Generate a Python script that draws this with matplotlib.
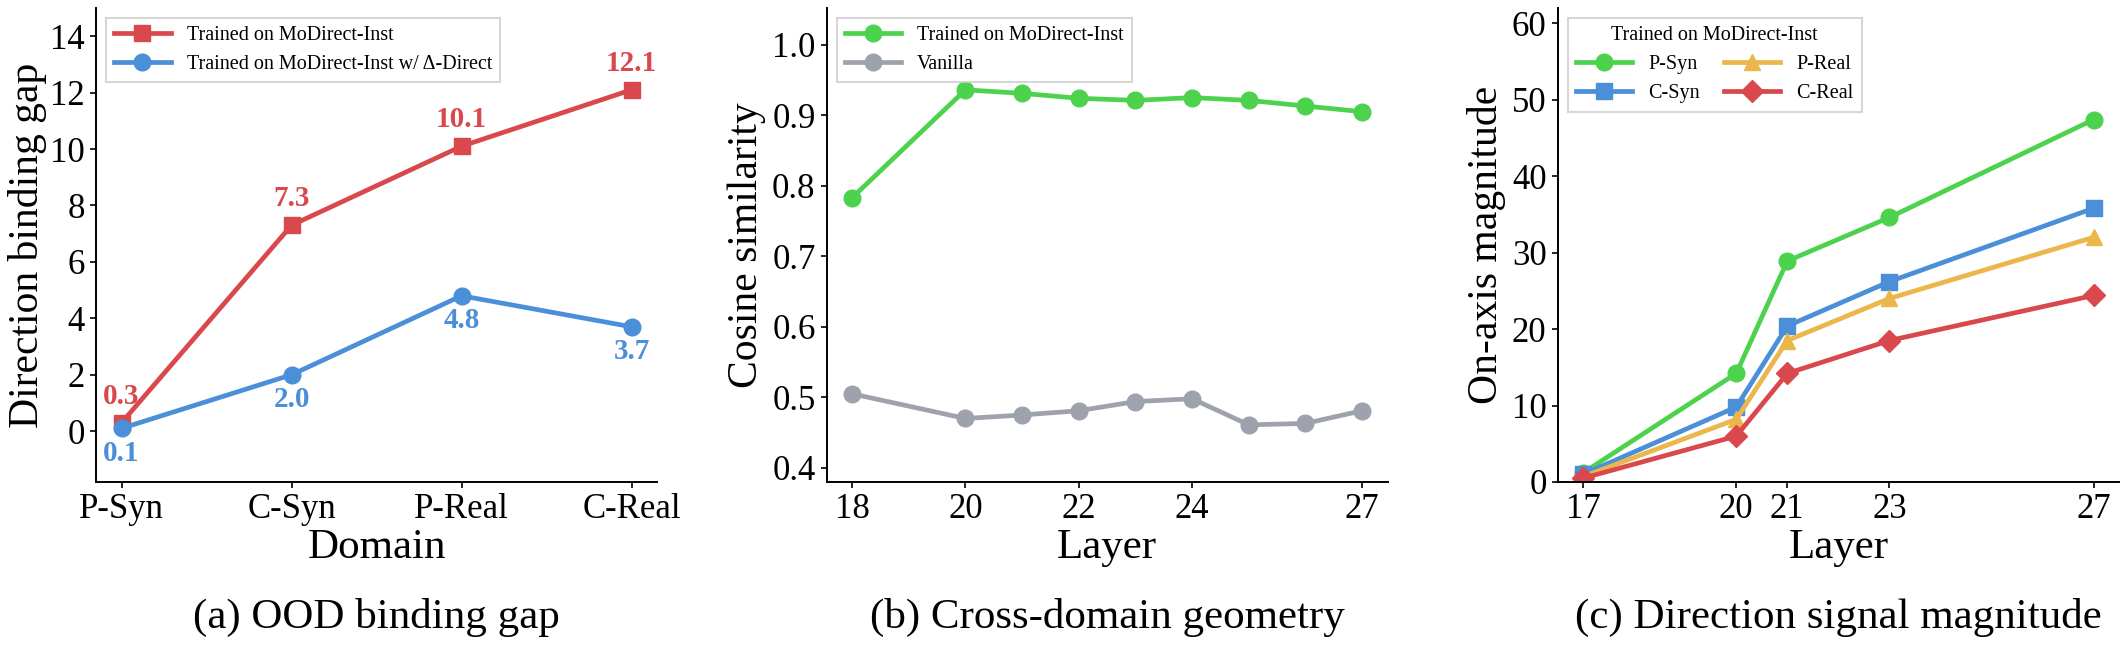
import matplotlib.pyplot as plt

plt.rcParams["font.family"] = ["Liberation Serif", "DejaVu Serif"]

C_RED = "#D9484C"
C_BLUE = "#4A8FD8"
C_GREEN = "#4DD24D"
C_GRAY = "#9EA2AD"
C_GOLD = "#EBB64A"

# (a) OOD binding gap
domains = ["P-Syn", "C-Syn", "P-Real", "C-Real"]
gap_inst = [0.3, 7.3, 10.1, 12.1]
gap_delta = [0.1, 2.0, 4.8, 3.7]

# (b) cross-domain geometry
layers_b = [18, 20, 21, 22, 23, 24, 25, 26, 27]
cos_trained = [0.783, 0.936, 0.931, 0.924, 0.921, 0.925, 0.921, 0.913, 0.905]
cos_vanilla = [0.505, 0.470, 0.475, 0.481, 0.494, 0.498, 0.461, 0.463, 0.481]
ticks_b = [18, 20, 22, 24, 27]

# (c) direction signal magnitude
layers_c = [17, 20, 21, 23, 27]
mag_psyn = [1.2, 14.2, 28.9, 34.6, 47.4]
mag_csyn = [1.0, 9.8, 20.4, 26.2, 35.8]
mag_preal = [0.7, 8.2, 18.5, 24.0, 32.0]
mag_creal = [0.5, 6.0, 14.2, 18.5, 24.4]

TICK_FS = 25
XLABEL_FS = 31
YLABEL_FS = 30
CAP_FS = 31
LEG_FS = 14.5
LW = 3.4
MS = 12


def style_axes(ax):
    ax.spines["top"].set_visible(False)
    ax.spines["right"].set_visible(False)
    for s in ("left", "bottom"):
        ax.spines[s].set_linewidth(1.4)
    ax.tick_params(labelsize=TICK_FS, width=1.2, length=4.5)


def legend(ax, **kw):
    leg = ax.legend(loc="upper left", fontsize=LEG_FS, frameon=True,
                    fancybox=False, edgecolor="#cccccc", handlelength=2.8,
                    borderaxespad=0.5, **kw)
    leg.get_frame().set_linewidth(1.5)
    return leg


fig = plt.figure(figsize=(21.25, 6.5), dpi=100)
bottom, top = 0.2585, 0.9877
ax_a = fig.add_axes([0.0452, bottom, 0.3092 - 0.0452, top - bottom])
ax_b = fig.add_axes([0.3890, bottom, 0.6530 - 0.3890, top - bottom])
ax_c = fig.add_axes([0.7330, bottom, 0.9972 - 0.7330, top - bottom])

# ---- (a)
xs = list(range(len(domains)))
ax_a.plot(xs, gap_inst, color=C_RED, lw=LW, marker="s", ms=MS,
          label="Trained on MoDirect-Inst", zorder=3)
ax_a.plot(xs, gap_delta, color=C_BLUE, lw=LW, marker="o", ms=MS,
          label="Trained on MoDirect-Inst w/ Δ-Direct", zorder=4)
for x, v in zip(xs, gap_inst):
    ax_a.annotate(f"{v:.1f}", (x, v), xytext=(0, 19), textcoords="offset points",
                  ha="center", va="center", color=C_RED, fontsize=21,
                  fontweight="bold")
for x, v in zip(xs, gap_delta):
    ax_a.annotate(f"{v:.1f}", (x, v), xytext=(0, -18), textcoords="offset points",
                  ha="center", va="center", color=C_BLUE, fontsize=21,
                  fontweight="bold")
ax_a.set_xticks(xs)
ax_a.set_xticklabels(domains)
ax_a.set_yticks([0, 2, 4, 6, 8, 10, 12, 14])
ax_a.set_xlim(-0.15, 3.15)
ax_a.set_ylim(-1.8, 15.0)
ax_a.set_xlabel("Domain", fontsize=XLABEL_FS, labelpad=2)
ax_a.set_ylabel("Direction binding gap", fontsize=YLABEL_FS, labelpad=2)
style_axes(ax_a)
legend(ax_a)

# ---- (b)
ax_b.plot(layers_b, cos_trained, color=C_GREEN, lw=LW, marker="o", ms=MS,
          label="Trained on MoDirect-Inst")
ax_b.plot(layers_b, cos_vanilla, color=C_GRAY, lw=LW, marker="o", ms=MS,
          label="Vanilla")
ax_b.set_xticks(ticks_b)
ax_b.set_yticks([0.4, 0.5, 0.6, 0.7, 0.8, 0.9, 1.0])
ax_b.set_xlim(17.55, 27.45)
ax_b.set_ylim(0.38, 1.052)
ax_b.set_xlabel("Layer", fontsize=XLABEL_FS, labelpad=2)
ax_b.set_ylabel("Cosine similarity", fontsize=YLABEL_FS, labelpad=4)
style_axes(ax_b)
legend(ax_b)

# ---- (c)
ax_c.plot(layers_c, mag_psyn, color=C_GREEN, lw=LW, marker="o", ms=MS, label="P-Syn")
ax_c.plot(layers_c, mag_csyn, color=C_BLUE, lw=LW, marker="s", ms=MS, label="C-Syn")
ax_c.plot(layers_c, mag_preal, color=C_GOLD, lw=LW, marker="^", ms=MS, label="P-Real")
ax_c.plot(layers_c, mag_creal, color=C_RED, lw=LW, marker="D", ms=MS - 1, label="C-Real")
ax_c.set_xticks(layers_c)
ax_c.set_yticks([0, 10, 20, 30, 40, 50, 60])
ax_c.set_xlim(16.5, 27.5)
ax_c.set_ylim(0, 62)
ax_c.set_xlabel("Layer", fontsize=XLABEL_FS, labelpad=2)
ax_c.set_ylabel("On-axis magnitude", fontsize=YLABEL_FS, labelpad=4)
style_axes(ax_c)
legend(ax_c, ncol=2, title="Trained on MoDirect-Inst",
       title_fontsize=LEG_FS, columnspacing=1.2)

captions = ["(a) OOD binding gap", "(b) Cross-domain geometry",
            "(c) Direction signal magnitude"]
for ax, cap in zip((ax_a, ax_b, ax_c), captions):
    pos = ax.get_position()
    fig.text((pos.x0 + pos.x1) / 2, 0.034, cap, ha="center", va="baseline",
             fontsize=CAP_FS)

fig.savefig("out.png", dpi=100, facecolor="white")
